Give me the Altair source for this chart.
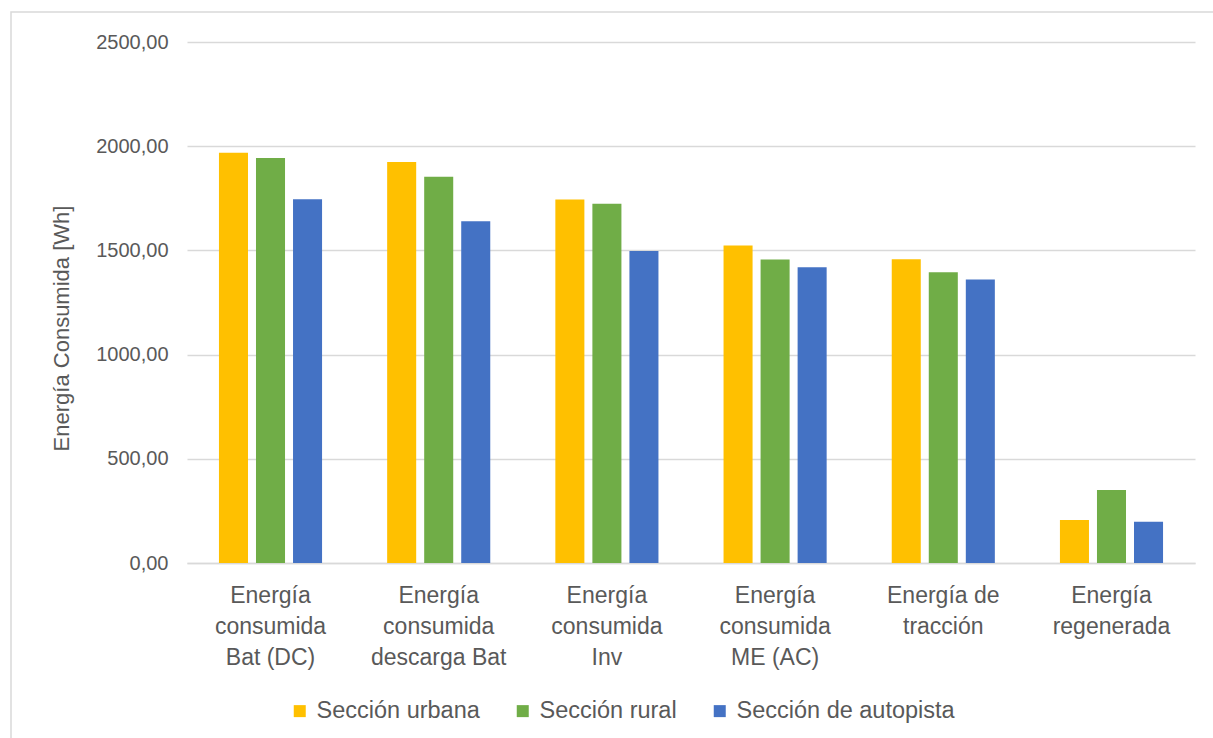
import altair as alt
import pandas as pd

# Categories (line breaks marked with "|") and series
categorias = [
    "Energía|consumida|Bat (DC)",
    "Energía|consumida|descarga Bat",
    "Energía|consumida|Inv",
    "Energía|consumida|ME (AC)",
    "Energía de|tracción",
    "Energía|regenerada",
]
series = ["Sección urbana", "Sección rural", "Sección de autopista"]

# Energy per category [Wh]
urbana = [1969, 1924, 1744, 1523, 1457, 206]
rural = [1943, 1854, 1724, 1456, 1395, 350]
autopista = [1745, 1640, 1497, 1419, 1360, 198]

colores = ["#FFC000", "#70AD47", "#4472C4"]
ticks_y = [0, 500, 1000, 1500, 2000, 2500]

rows = []
for serie, vals in zip(series, [urbana, rural, autopista]):
    for cat, v in zip(categorias, vals):
        rows.append({"categoria": cat, "serie": serie, "energia": v})
df = pd.DataFrame(rows)

FONT = "Liberation Sans"
GRIS = "#595959"

bars = alt.Chart(df).mark_bar().encode(
    x=alt.X(
        "categoria:N",
        sort=categorias,
        scale=alt.Scale(paddingInner=0.387, paddingOuter=0.19),
        axis=alt.Axis(
            title=None,
            labelExpr="split(datum.label, '|')",
            labelAngle=0,
            labelFontSize=23,
            labelColor=GRIS,
            labelLineHeight=31,
            labelPadding=21,
            labelBaseline="top",
            domainColor="#d9d9d9",
            domainWidth=1.5,
            ticks=False,
            labelLimit=300,
        ),
    ),
    xOffset=alt.XOffset(
        "serie:N", sort=series, scale=alt.Scale(paddingInner=0.216, paddingOuter=0)
    ),
    y=alt.Y(
        "energia:Q",
        scale=alt.Scale(domain=[0, 2500], nice=False),
        axis=alt.Axis(
            values=ticks_y,
            labelExpr="replace(format(datum.value, '.2f'), '.', ',')",
            title="Energía Consumida [Wh]",
            titleFontSize=22,
            titleFontWeight="normal",
            titleColor=GRIS,
            titlePadding=22,
            titleY=286,
            labelFontSize=20,
            labelColor=GRIS,
            labelPadding=19,
            domain=False,
            ticks=False,
            gridColor="#d9d9d9",
            gridWidth=1.5,
        ),
    ),
    color=alt.Color(
        "serie:N",
        sort=series,
        scale=alt.Scale(domain=series, range=colores),
        legend=alt.Legend(
            orient="none",
            legendX=101,
            legendY=657,
            direction="horizontal",
            title=None,
            symbolType="square",
            symbolSize=144,
            symbolStrokeWidth=0,
            labelFontSize=23.5,
            labelColor=GRIS,
            labelOffset=5,
            labelLimit=400,
            columnPadding=31,
            padding=0,
        ),
    ),
)

# Thin frame around the whole figure
marco = alt.Chart(pd.DataFrame({"k": [0]})).mark_rect(
    filled=False, stroke="#d9d9d9", strokeWidth=1.5
).encode(
    x=alt.value(-176),
    x2=alt.value(1100),
    y=alt.value(-30),
    y2=alt.value(800),
)

chart = alt.layer(marco, bars).properties(
    width=1008,
    height=521,
    padding={"left": 187, "top": 42, "right": 18, "bottom": 175},
    autosize=alt.AutoSizeParams(type="none"),
).configure(
    font=FONT,
    background="white",
).configure_view(stroke=None)

chart.save("out.html", embed_options={"renderer": "svg", "actions": False})
